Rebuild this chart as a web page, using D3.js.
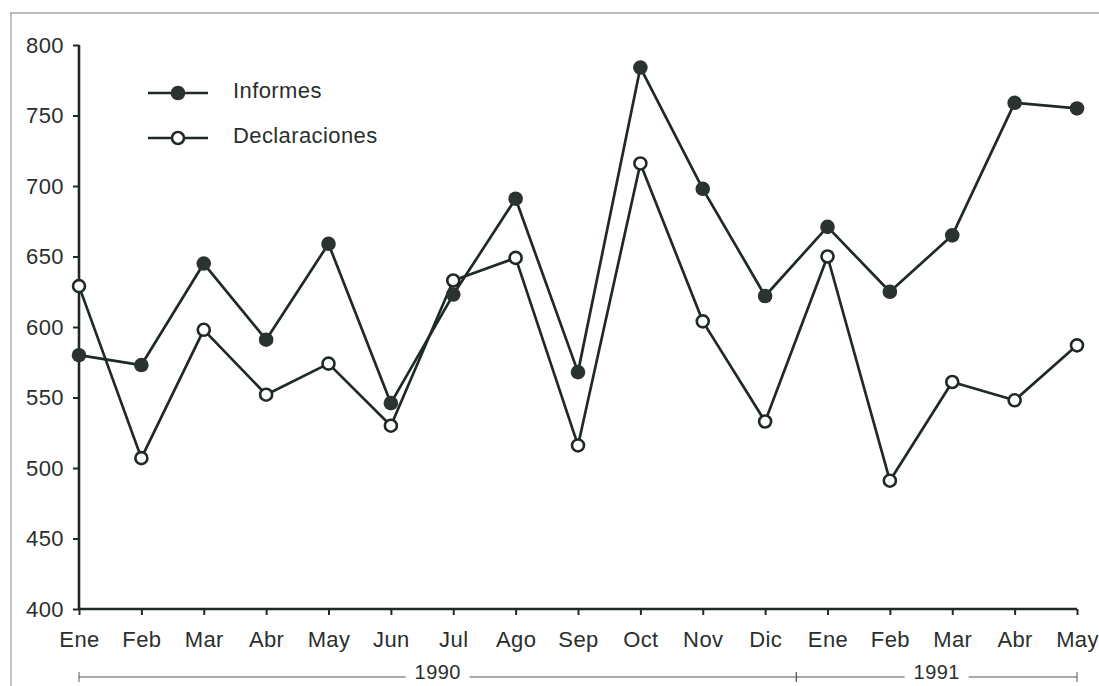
<!DOCTYPE html>
<html>
<head>
<meta charset="utf-8">
<script src="https://cdn.jsdelivr.net/npm/d3@7"></script>
<style>
  html, body { margin: 0; padding: 0; background: #ffffff; }
  svg { display: block; }
  text { font-family: "Liberation Sans", Arial, Helvetica, sans-serif; fill: #2a2f2c; }
</style>
</head>
<body>
<svg id="chart" width="1099" height="686"></svg>
<script>
const months = ["Ene","Feb","Mar","Abr","May","Jun","Jul","Ago","Sep","Oct","Nov","Dic","Ene","Feb","Mar","Abr","May"];
const informes = [580, 573, 645, 591, 659, 546, 623, 691, 568, 784, 698, 622, 671, 625, 665, 759, 755];
const declaraciones = [629, 507, 598, 552, 574, 530, 633, 649, 516, 716, 604, 533, 650, 491, 561, 548, 587];
const yTicks = [400, 450, 500, 550, 600, 650, 700, 750, 800];
const years = [{label: "1990", from: 0, to: 11.5}, {label: "1991", from: 11.5, to: 16}];
const seriesNames = ["Informes", "Declaraciones"];

const ink = "#1f2a25";
const fs = 22, ls = 0.4;
const svg = d3.select("#chart");

// scan frame
svg.append("line").attr("x1", 10).attr("x2", 1099).attr("y1", 13).attr("y2", 13)
  .attr("stroke", "#777").attr("stroke-width", 1);
svg.append("line").attr("x1", 11).attr("x2", 11).attr("y1", 13).attr("y2", 686)
  .attr("stroke", "#888").attr("stroke-width", 1);

const x0 = 79, x1 = 1077;
const idx = d3.range(months.length);
const x = d3.scaleLinear().domain([0, months.length - 1]).range([x0, x1]);
const y = d3.scaleLinear().domain([400, 800]).range([609, 45]);

function styleText(sel) {
  sel.attr("font-size", fs).attr("letter-spacing", ls)
    .attr("font-family", "Liberation Sans, Arial, sans-serif").attr("fill", "#2a2f2c");
}

// y axis
const yAxis = d3.axisLeft(y).tickValues(yTicks).tickSize(6).tickPadding(9).tickFormat(d3.format("d"));
const gy = svg.append("g").attr("transform", `translate(${x0},0)`).call(yAxis);
gy.select(".domain").attr("d", `M0,${y(800)}V${y(400)}`).attr("stroke", ink).attr("stroke-width", 2.6);
gy.selectAll(".tick line").attr("stroke", ink).attr("stroke-width", 2);
styleText(gy.selectAll(".tick text"));

// x axis
const xAxis = d3.axisBottom(x).tickValues(idx).tickSize(6).tickPadding(16).tickFormat(i => months[i]);
const gx = svg.append("g").attr("transform", `translate(0,${y(400)})`).call(xAxis);
gx.select(".domain").attr("d", `M${x0},0H${x1}`).attr("stroke", ink).attr("stroke-width", 2.6);
gx.selectAll(".tick line").attr("stroke", ink).attr("stroke-width", 2);
styleText(gx.selectAll(".tick text"));

// year brackets
const yb = 677;
years.forEach(yr => {
  const a = x(yr.from), b = x(yr.to), m = (a + b) / 2;
  const tw = 56;
  svg.append("line").attr("x1", a).attr("x2", m - tw / 2 - 4).attr("y1", yb).attr("y2", yb)
    .attr("stroke", "#555").attr("stroke-width", 1);
  svg.append("line").attr("x1", m + tw / 2 + 4).attr("x2", b).attr("y1", yb).attr("y2", yb)
    .attr("stroke", "#555").attr("stroke-width", 1);
  [a, b].forEach(p => svg.append("line").attr("x1", p).attr("x2", p).attr("y1", yb - 5).attr("y2", yb + 5)
    .attr("stroke", "#555").attr("stroke-width", 1));
  svg.append("text").attr("x", m).attr("y", 679).attr("text-anchor", "middle")
    .call(styleText).attr("font-size", 20).text(yr.label);
});

// lines
const line = d3.line().x((d, i) => x(i)).y(d => y(d));
[informes, declaraciones].forEach(s => {
  svg.append("path").datum(s).attr("d", line).attr("fill", "none")
    .attr("stroke", ink).attr("stroke-width", 2.7).attr("stroke-linejoin", "round");
});

// markers
svg.append("g").selectAll("circle").data(declaraciones).join("circle")
  .attr("cx", (d, i) => x(i)).attr("cy", d => y(d)).attr("r", 6)
  .attr("fill", "#fff").attr("stroke", ink).attr("stroke-width", 2.6);
svg.append("g").selectAll("circle").data(informes).join("circle")
  .attr("cx", (d, i) => x(i)).attr("cy", d => y(d)).attr("r", 7.3)
  .attr("fill", "#2b332f").attr("stroke", "none");

// legend
const lg = svg.append("g");
[[93, true], [138, false]].forEach(([ly, filled], k) => {
  lg.append("line").attr("x1", 148).attr("x2", 208).attr("y1", ly).attr("y2", ly)
    .attr("stroke", ink).attr("stroke-width", 2.6);
  if (filled) {
    lg.append("circle").attr("cx", 178).attr("cy", ly).attr("r", 7.3).attr("fill", "#2b332f");
  } else {
    lg.append("circle").attr("cx", 178).attr("cy", ly).attr("r", 6)
      .attr("fill", "#fff").attr("stroke", ink).attr("stroke-width", 2.6);
  }
  lg.append("text").attr("x", 233).attr("y", ly - 3).attr("dy", "0.35em")
    .call(styleText).text(seriesNames[k]);
});
</script>
</body>
</html>
